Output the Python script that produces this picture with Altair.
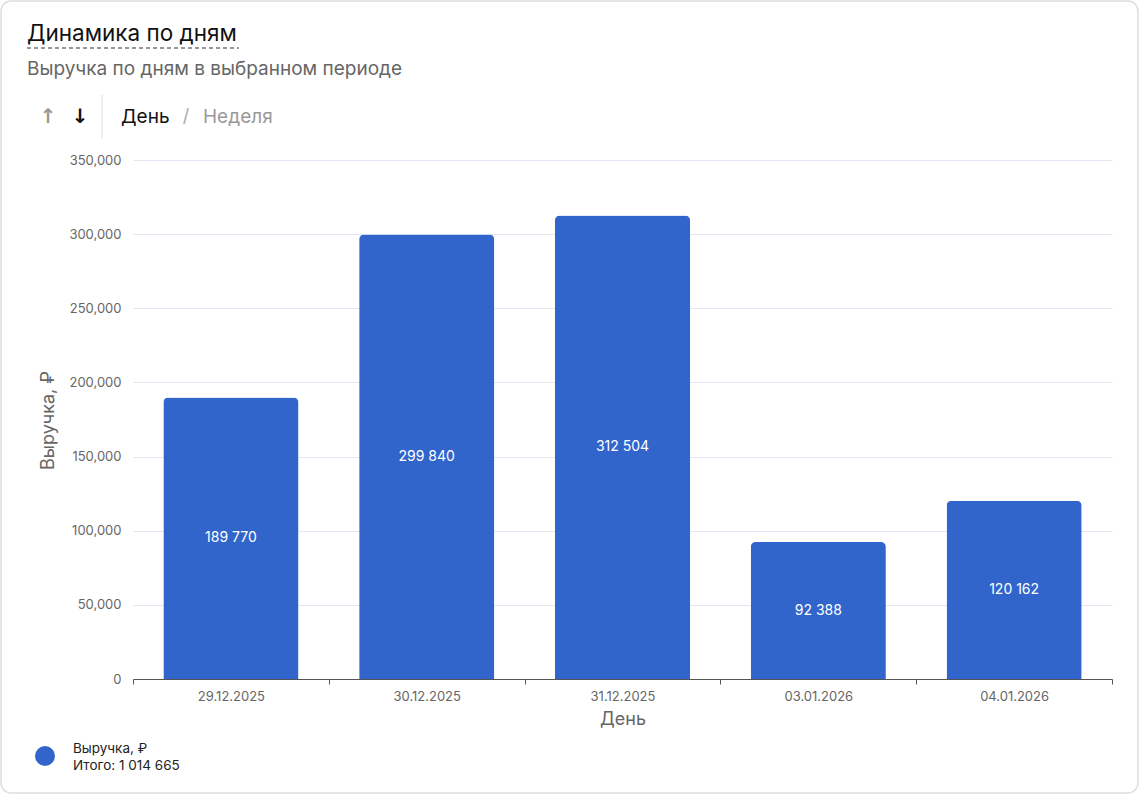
import altair as alt
import pandas as pd

days = ["29.12.2025", "30.12.2025", "31.12.2025", "03.01.2026", "04.01.2026"]
revenue = [189770, 299840, 312504, 92388, 120162]
y_ticks = [0, 50000, 100000, 150000, 200000, 250000, 300000, 350000]
total_text = "Итого: 1 014 665"

BLUE = "#3165cc"
FONT = "Inter"

df = pd.DataFrame({"day": days, "value": revenue})
df["half"] = df["value"] / 2
df["label"] = [f"{v:,}".replace(",", " ") for v in revenue]

W, H = 979, 519
PL, PT = 133, 160

x_enc = alt.X(
    "day:N", sort=days, title="День",
    scale=alt.Scale(paddingInner=0, paddingOuter=0),
    axis=alt.Axis(labelAngle=0, tickBand="extent", labelFontSize=13, labelColor="#666",
                  labelFont=FONT, labelPadding=6, tickSize=5, tickColor="#555",
                  domainColor="#555", titleFontSize=18, titleColor="#666", titleFont=FONT,
                  titleFontWeight="normal", titlePadding=7, grid=False),
)

bars = alt.Chart(df).mark_bar(
    color=BLUE, cornerRadiusTopLeft=5, cornerRadiusTopRight=5,
    width=alt.RelativeBandSize(0.69),
).encode(
    x=x_enc,
    y=alt.Y("value:Q", title="Выручка, ₽",
            scale=alt.Scale(domain=[0, 350000], nice=False),
            axis=alt.Axis(values=y_ticks, format=",d", labelFontSize=13, labelColor="#666",
                          labelFont=FONT, labelPadding=12, ticks=False, domain=False,
                          gridColor="#e2e6f3", titleFontSize=18, titleColor="#666",
                          titleFont=FONT, titleFontWeight="normal",
                          titleX=48 - PL, titleY=420 - PT, titleBaseline="middle",
                          titleAlign="center", titleAngle=270)),
)

labels = alt.Chart(df).mark_text(color="white", fontSize=14, font=FONT).encode(
    x=alt.X("day:N", sort=days),
    y=alt.Y("half:Q"),
    text="label:N",
)

def txt(s, x, y, size, color, align="left", baseline="middle", font=FONT, weight="normal"):
    return alt.Chart(pd.DataFrame({"t": [s]})).mark_text(
        fontSize=size, color=color, font=font, align=align, baseline=baseline, fontWeight=weight
    ).encode(x=alt.value(x), y=alt.value(y), text="t:N")

def rule(x, x2, y, y2, color, dash=None, width=1):
    kw = dict(color=color, strokeWidth=width)
    if dash:
        kw["strokeDash"] = dash
    return alt.Chart(pd.DataFrame({"a": [0]})).mark_rule(**kw).encode(
        x=alt.value(x), x2=alt.value(x2), y=alt.value(y), y2=alt.value(y2))

card = alt.Chart(pd.DataFrame({"a": [0]})).mark_rect(
    fill="white", fillOpacity=0, stroke="#dcdfe0", strokeWidth=1.5, cornerRadius=10
).encode(x=alt.value(1 - PL), x2=alt.value(1138 - PL), y=alt.value(1 - PT), y2=alt.value(793 - PT))

legend_dot = alt.Chart(pd.DataFrame({"a": [0]})).mark_point(
    filled=True, color=BLUE, size=400, shape="circle", opacity=1
).encode(x=alt.value(45 - PL), y=alt.value(756 - PT))

layers = [
    card,
    bars,
    labels,
    txt("Динамика по дням", 27 - PL, 41 - PT, 22.5, "#111", baseline="alphabetic"),
    rule(27 - PL, 239 - PL, 48 - PT, 48 - PT, "#333", dash=[4, 3]),
    txt("Выручка по дням в выбранном периоде", 27 - PL, 75 - PT, 19, "#666", baseline="alphabetic"),
    txt("↑", 48 - PL, 117 - PT, 20, "#999", align="center", font="DejaVu Sans", weight="bold"),
    txt("↓", 80 - PL, 117 - PT, 20, "#111", align="center", font="DejaVu Sans", weight="bold"),
    rule(102 - PL, 102 - PL, 95 - PT, 138 - PT, "#dddddd"),
    txt("День", 121 - PL, 117 - PT, 19, "#111"),
    txt("/", 186 - PL, 117 - PT, 18, "#aaa", align="center"),
    txt("Неделя", 203 - PL, 117 - PT, 19, "#999"),
    legend_dot,
    txt("Выручка, ₽", 73 - PL, 749 - PT, 13.5, "#222"),
    txt(total_text, 73 - PL, 766 - PT, 13.5, "#222"),
]

chart = alt.layer(*layers).properties(
    width=W, height=H,
    autosize=alt.AutoSizeParams(type="none"),
    padding={"left": PL, "top": PT, "right": 1139 - PL - W, "bottom": 795 - PT - H},
    background="white",
).configure_view(stroke=None)

chart.save("out.html", embed_options={"renderer": "svg", "actions": False})
